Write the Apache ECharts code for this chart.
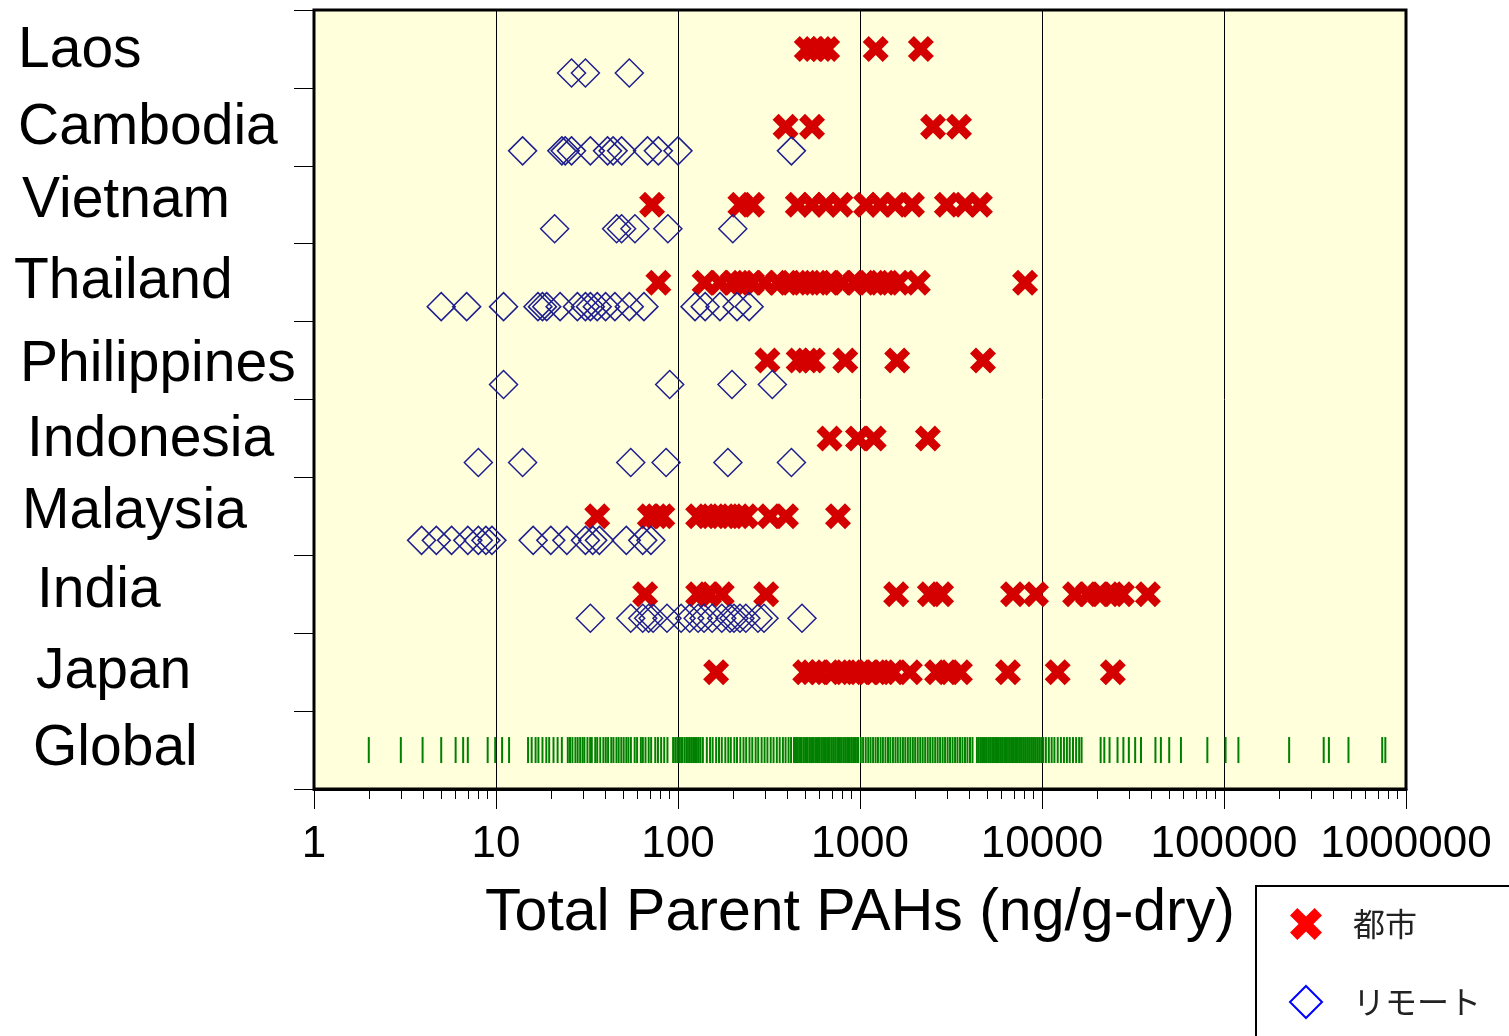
<!DOCTYPE html>
<html>
<head>
<meta charset="utf-8">
<script src="https://cdn.jsdelivr.net/npm/echarts@6/dist/echarts.min.js"></script>
<style>
  html, body { margin: 0; padding: 0; background: #fff; }
  #main { width: 1509px; height: 1036px; }
</style>
</head>
<body>
<div id="main"></div>
<script>
const categories = ["Laos", "Cambodia", "Vietnam", "Thailand", "Philippines", "Indonesia", "Malaysia", "India", "Japan", "Global"];
const xTicks = [1, 10, 100, 1000, 10000, 100000, 1000000];

// urban sites (都市)
const laosUrban = [510, 560, 610, 660, 1220, 2160];
const cambodiaUrban = [390, 545, 2520, 3500];
const vietnamUrban = [72, 220, 255, 455, 545, 650, 780, 1080, 1290, 1560, 1930, 3000, 3780, 4560];
const thailandUrban = [78, 140, 170, 200, 225, 255, 300, 355, 410, 470, 530, 600, 685, 800, 940, 1090, 1250, 1420, 1620, 2080, 8070];
const philippinesUrban = [310, 460, 510, 550, 830, 1600, 4740];
const indonesiaUrban = [680, 975, 1190, 2360];
const malaysiaUrban = [36, 70, 76, 82, 129, 146, 166, 188, 214, 236, 320, 392, 757];
const indiaUrban = [66, 129, 148, 174, 305, 1580, 2420, 2790, 6930, 9270, 15200, 17900, 20800, 24300, 27500, 38200];
const japanUrban = [162, 500, 545, 600, 700, 800, 900, 1000, 1110, 1220, 1350, 1520, 1880, 2650, 3050, 3540, 6500, 12200, 24500];

// remote sites (リモート)
const laosRemote = [26, 31, 54];
const cambodiaRemote = [14, 23, 24, 26, 33, 41, 44, 49, 68, 78, 100, 420];
const vietnamRemote = [21, 46, 49, 58, 88, 200];
const thailandRemote = [5, 6.9, 11, 17, 18, 19, 22.5, 28, 31, 33, 36, 40, 45, 54, 65, 124, 141, 170, 211, 246];
const philippinesRemote = [11, 90, 198, 330];
const indonesiaRemote = [8, 14, 55, 86, 188, 420];
const malaysiaRemote = [3.9, 4.7, 5.7, 7, 8, 8.8, 9.5, 16, 20, 24.5, 31, 34, 37, 52, 64, 71];
const indiaRemote = [33, 55, 64, 69, 73, 87, 104, 116, 129, 139, 154, 174, 193, 203, 219, 236, 275, 297, 480];

// global literature values (rug)
const globalValues = [
  2.0, 3.0, 3.95, 5.0, 6.0, 6.6, 7.0, 9.0, 9.9, 10.8, 11.8,
  15.0, 15.7, 16.5, 17.1, 18.0, 18.9, 19.6, 20.7, 21.8, 23.0,
  24.8, 25.5, 26.3, 27.3, 28.1, 29.0, 29.9, 30.6, 31.8, 32.9, 33.6, 35.1, 36.0, 37.4, 38.9, 40.1, 41.3, 43.0, 44.2,
  45.9, 47.2, 48.8, 50.3, 52.0, 53.4, 55.1, 57.8, 59.6, 62.5, 64.1, 66.3, 69.0, 71.2, 75.0, 77.6, 80.8, 84.0, 87.5,
  94, 96.5, 99, 101.5, 104, 106, 109, 112, 115, 118, 121, 124, 127, 130, 133, 137,
  144, 150, 155, 162, 168, 174, 182, 189, 195, 204, 211, 220, 229, 237, 247, 256, 267, 276, 288, 299, 310, 323, 335,
  349, 362, 377, 390, 405, 418,
  434, 445, 456, 468, 479, 492, 505, 517, 531, 545, 558, 573, 588, 602, 618, 634, 650, 667, 683, 701, 719, 737, 757,
  776, 795, 816, 837, 859, 880, 903, 927, 950, 975,
  1010, 1040, 1075, 1110, 1143, 1180, 1218, 1255, 1297, 1336, 1380, 1425, 1468, 1517, 1566, 1613, 1667, 1721, 1774,
  1832, 1890, 1951, 2010, 2076, 2143, 2210, 2281, 2356, 2430, 2507, 2589, 2671, 2755, 2845, 2934, 3030, 3124, 3226,
  3330, 3433, 3545, 3656, 3775, 3894, 4021, 4150,
  4390, 4500, 4620, 4740, 4860, 4980, 5110, 5240, 5380, 5520, 5660, 5800, 5950, 6100, 6260, 6420, 6590, 6760, 6930,
  7110, 7290, 7480, 7670, 7870, 8070, 8280, 8490, 8710, 8930, 9160, 9400, 9640, 9890, 10150,
  10500, 10900, 11300, 11700, 12200, 12700, 13200, 13700, 14200, 14800, 15400, 16000,
  16500, 21000, 22000, 23500, 26000, 28000, 30000, 32500, 35000, 42000, 45000, 50000, 58000,
  81000, 102000, 120000, 228000, 353000, 377000, 483000, 740000, 770000
];

const urbanByCountry = {
  Laos: laosUrban, Cambodia: cambodiaUrban, Vietnam: vietnamUrban, Thailand: thailandUrban,
  Philippines: philippinesUrban, Indonesia: indonesiaUrban, Malaysia: malaysiaUrban, India: indiaUrban, Japan: japanUrban
};
const remoteByCountry = {
  Laos: laosRemote, Cambodia: cambodiaRemote, Vietnam: vietnamRemote, Thailand: thailandRemote,
  Philippines: philippinesRemote, Indonesia: indonesiaRemote, Malaysia: malaysiaRemote, India: indiaRemote
};

const toPoints = (obj) => {
  const out = [];
  Object.keys(obj).forEach((c) => obj[c].forEach((v) => out.push([v, c])));
  return out;
};

const crossPath = "path://M0,6L6,0L13,7L20,0L26,6L19,13L26,20L20,26L13,19L6,26L0,20L7,13Z";

// per-label nudges [top, bottom, left] to follow the hand placed labels
const labelPads = [[5, 0, 4], [2, 0, 4], [0, 6, 8], [0, 0, 0], [10, 0, 6], [4, 0, 13], [0, 8, 8], [0, 6, 23], [0, 0, 22], [0, 2, 19]];
const rich = {};
labelPads.forEach((p, i) => {
  rich["p" + i] = {
    fontSize: 57, fontFamily: "Liberation Sans", color: "#000",
    padding: [p[0], 0, p[1], p[2]]
  };
});

const chart = echarts.init(document.getElementById("main"));
const option = {
  animation: false,
  backgroundColor: "#fff",
  grid: {
    left: 314, right: 103, top: 10, bottom: 247,
    show: true, backgroundColor: "#FFFFDC", borderColor: "#000", borderWidth: 3,
    outerBoundsMode: "none"
  },
  xAxis: {
    type: "log", logBase: 10, min: 1, max: 1000000,
    name: "Total Parent PAHs (ng/g-dry)",
    nameLocation: "middle", nameGap: 95,
    nameTextStyle: { fontSize: 59, fontFamily: "Liberation Sans", color: "#000" },
    axisLine: { show: true, lineStyle: { color: "#000", width: 3 } },
    axisTick: { show: true, length: 20, lineStyle: { color: "#000", width: 1 } },
    minorTick: { show: true, splitNumber: 9, length: 10, lineStyle: { color: "#000", width: 1 } },
    axisLabel: {
      fontSize: 44, fontFamily: "Liberation Sans", color: "#000", margin: 34,
      showMinLabel: true, showMaxLabel: true,
      formatter: (v) => {
        const r = Math.round(v);
        return xTicks.indexOf(r) >= 0 ? String(r) : "";
      }
    },
    splitLine: { show: true, lineStyle: { color: "#000", width: 1 } }
  },
  yAxis: {
    type: "category", data: categories, inverse: true,
    axisLine: { show: true, lineStyle: { color: "#000", width: 2 } },
    axisTick: { show: true, length: 20, lineStyle: { color: "#000", width: 1 } },
    axisLabel: {
      align: "left", margin: 300,
      formatter: (v, i) => "{p" + i + "|" + v + "}",
      rich: rich
    },
    splitLine: { show: false }
  },
  legend: {
    orient: "vertical", left: 1256, top: 886, width: 400, height: 400,
    padding: [22, 120, 40, 33],
    borderColor: "#000", borderWidth: 2, backgroundColor: "#fff",
    itemWidth: 32, itemHeight: 32, itemGap: 45,
    textStyle: { fontSize: 32, fontFamily: "Noto Sans CJK JP", color: "#222", padding: [0, 0, 0, 26] },
    data: [
      { name: "都市", icon: crossPath, itemStyle: { color: "#FF0000" } },
      { name: "リモート", icon: "diamond", itemStyle: { color: "rgba(0,0,0,0)", borderColor: "#0000FF", borderWidth: 2 } }
    ]
  },
  series: [
    {
      name: "都市", type: "scatter", symbol: crossPath, symbolSize: [26, 26],
      itemStyle: { color: "#D40000", opacity: 1 },
      data: toPoints(urbanByCountry)
    },
    {
      name: "リモート", type: "scatter", symbol: "diamond", symbolSize: [28, 28], symbolOffset: [0, 24],
      itemStyle: { color: "rgba(0,0,0,0)", borderColor: "#1F1F90", borderWidth: 1.5, opacity: 1 },
      data: toPoints(remoteByCountry)
    },
    {
      name: "Global", type: "scatter", symbol: "rect", symbolSize: [2, 26],
      itemStyle: { color: "#008000", opacity: 1 },
      data: globalValues.map((v) => [v, "Global"])
    }
  ]
};
chart.setOption(option);
</script>
</body>
</html>
